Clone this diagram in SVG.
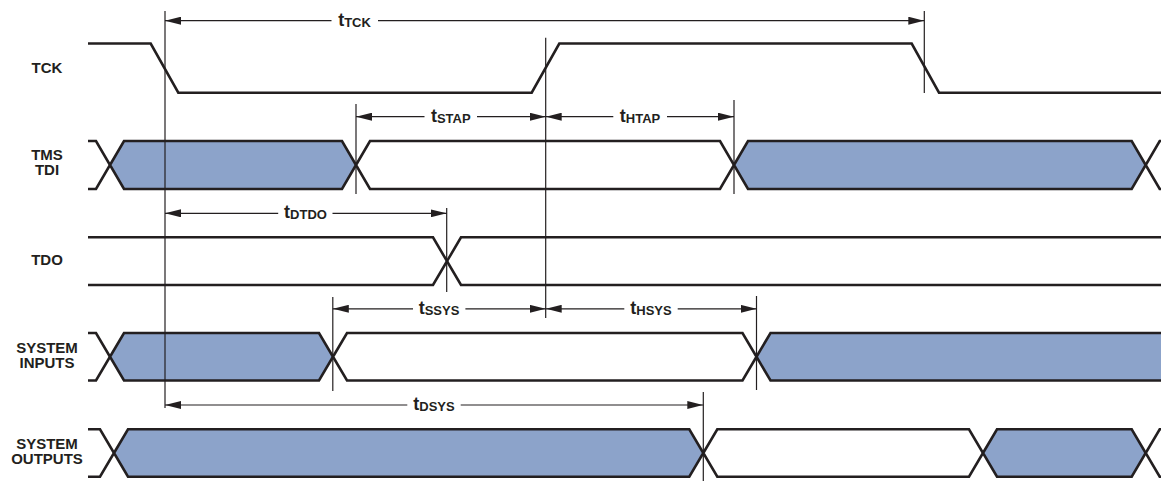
<svg xmlns="http://www.w3.org/2000/svg" width="1161" height="481" viewBox="0 0 1161 481">
<defs>
<marker id="arr" viewBox="0 0 16 8" refX="16" refY="4" markerWidth="16" markerHeight="8" markerUnits="userSpaceOnUse" orient="auto">
<path d="M0,0 L16,4 L0,8 z" fill="#231f20"/>
</marker>
<style>
.sig{fill:none;stroke:#231f20;stroke-width:2.6;stroke-linejoin:miter}
.blue{fill:#8ca3ca;stroke:#231f20;stroke-width:2.6;stroke-linejoin:miter}
.white{fill:#ffffff;stroke:#231f20;stroke-width:2.6;stroke-linejoin:miter}
.lbl{font-family:"Liberation Sans",Arial,sans-serif;font-weight:bold;font-size:15px;fill:#231f20;text-anchor:middle}
.tl{font-family:"Liberation Sans",Arial,sans-serif;font-weight:bold;font-size:18px;fill:#231f20;text-anchor:middle}
.sub{font-size:13px}
.vl{stroke:#231f20;stroke-width:1.2;fill:none}
.al{stroke:#231f20;stroke-width:1.2;fill:none;marker-end:url(#arr)}
</style>
</defs>
<rect width="1161" height="481" fill="#ffffff"/>

<g id="tck">
<path class="sig" d="M88,43.5 H150.7 L178.3,92.7 H531.7 L559.3,43.5 H911.7 L939,92.7 H1161"/>
<text class="lbl" x="47" y="73">TCK</text>
</g>

<g id="tms-tdi">
<path class="sig" d="M88,141 H96 L110,165 L96,189 H88"/>
<polygon class="blue" points="110,165 124,141 342,141 356,165 342,189 124,189"/>
<polygon class="white" points="356,165 370,141 720,141 734,165 720,189 370,189"/>
<polygon class="blue" points="734,165 748,141 1131.7,141 1145.7,165 1131.7,189 748,189"/>
<path class="sig" d="M1163,141 H1159.7 L1145.7,165 L1159.7,189 H1163"/>
<text class="lbl" x="47" y="160"><tspan x="47">TMS</tspan><tspan x="47" dy="15.3">TDI</tspan></text>
</g>

<g id="tdo">
<path class="sig" d="M88,237.3 H433 L447,261.2 L433,285 H88"/>
<path class="sig" d="M1163,237.3 H461 L447,261.2 L461,285 H1163"/>
<text class="lbl" x="47" y="265">TDO</text>
</g>

<g id="system-inputs">
<path class="sig" d="M88,333 H96 L110,356.75 L96,380.5 H88"/>
<polygon class="blue" points="110,356.75 124,333 319,333 333,356.75 319,380.5 124,380.5"/>
<polygon class="white" points="333,356.75 347,333 742.5,333 756.5,356.75 742.5,380.5 347,380.5"/>
<polygon class="blue" points="756.5,356.75 770.5,333 1166,333 1166,380.5 770.5,380.5"/>
<text class="lbl" x="47" y="353.3"><tspan x="47">SYSTEM</tspan><tspan x="47" dy="15">INPUTS</tspan></text>
</g>

<g id="system-outputs">
<path class="sig" d="M88,429.3 H100 L114,453 L100,476.7 H88"/>
<polygon class="blue" points="114,453 128,429.3 689.3,429.3 703.3,453 689.3,476.7 128,476.7"/>
<polygon class="white" points="703.3,453 717.3,429.3 969,429.3 983,453 969,476.7 717.3,476.7"/>
<polygon class="blue" points="983,453 997,429.3 1131.7,429.3 1145.7,453 1131.7,476.7 997,476.7"/>
<path class="sig" d="M1163,429.3 H1159.7 L1145.7,453 L1159.7,476.7 H1163"/>
<text class="lbl" x="47" y="449"><tspan x="47">SYSTEM</tspan><tspan x="47" dy="15.3">OUTPUTS</tspan></text>
</g>

<g id="connectors">
<line class="vl" x1="165" y1="11" x2="165" y2="408"/>
<line class="vl" x1="924.3" y1="11" x2="924.3" y2="93"/>
<line class="vl" x1="545.7" y1="37.7" x2="545.7" y2="318"/>
<line class="vl" x1="356" y1="104" x2="356" y2="194"/>
<line class="vl" x1="734" y1="100" x2="734" y2="194"/>
<line class="vl" x1="446.7" y1="208" x2="446.7" y2="292"/>
<line class="vl" x1="332.8" y1="297" x2="332.8" y2="391"/>
<line class="vl" x1="756.5" y1="296" x2="756.5" y2="390"/>
<line class="vl" x1="703.3" y1="392" x2="703.3" y2="481"/>

<line class="al" x1="331.5" y1="20.7" x2="165" y2="20.7"/>
<line class="al" x1="378" y1="20.7" x2="924.3" y2="20.7"/>
<text class="tl" x="354.5" y="25.7">t<tspan class="sub" dy="1">TCK</tspan></text>

<line class="al" x1="424.5" y1="116.7" x2="356" y2="116.7"/>
<line class="al" x1="477" y1="116.7" x2="545.7" y2="116.7"/>
<text class="tl" x="450.8" y="121.7">t<tspan class="sub" dy="1">STAP</tspan></text>

<line class="al" x1="613.3" y1="116.7" x2="545.7" y2="116.7"/>
<line class="al" x1="667" y1="116.7" x2="734" y2="116.7"/>
<text class="tl" x="640" y="121.7">t<tspan class="sub" dy="1">HTAP</tspan></text>

<line class="al" x1="278.2" y1="213.3" x2="165" y2="213.3"/>
<line class="al" x1="332.5" y1="213.3" x2="446.7" y2="213.3"/>
<text class="tl" x="305.5" y="218.3">t<tspan class="sub" dy="1">DTDO</tspan></text>

<line class="al" x1="413" y1="308.8" x2="332.8" y2="308.8"/>
<line class="al" x1="465.4" y1="308.8" x2="545.7" y2="308.8"/>
<text class="tl" x="439" y="313.8">t<tspan class="sub" dy="1">SSYS</tspan></text>

<line class="al" x1="624.3" y1="308.8" x2="545.7" y2="308.8"/>
<line class="al" x1="677.7" y1="308.8" x2="756.5" y2="308.8"/>
<text class="tl" x="651" y="313.8">t<tspan class="sub" dy="1">HSYS</tspan></text>

<line class="al" x1="407.3" y1="405" x2="165" y2="405"/>
<line class="al" x1="460.7" y1="405" x2="703.3" y2="405"/>
<text class="tl" x="434" y="410">t<tspan class="sub" dy="1">DSYS</tspan></text>
</g>
</svg>
